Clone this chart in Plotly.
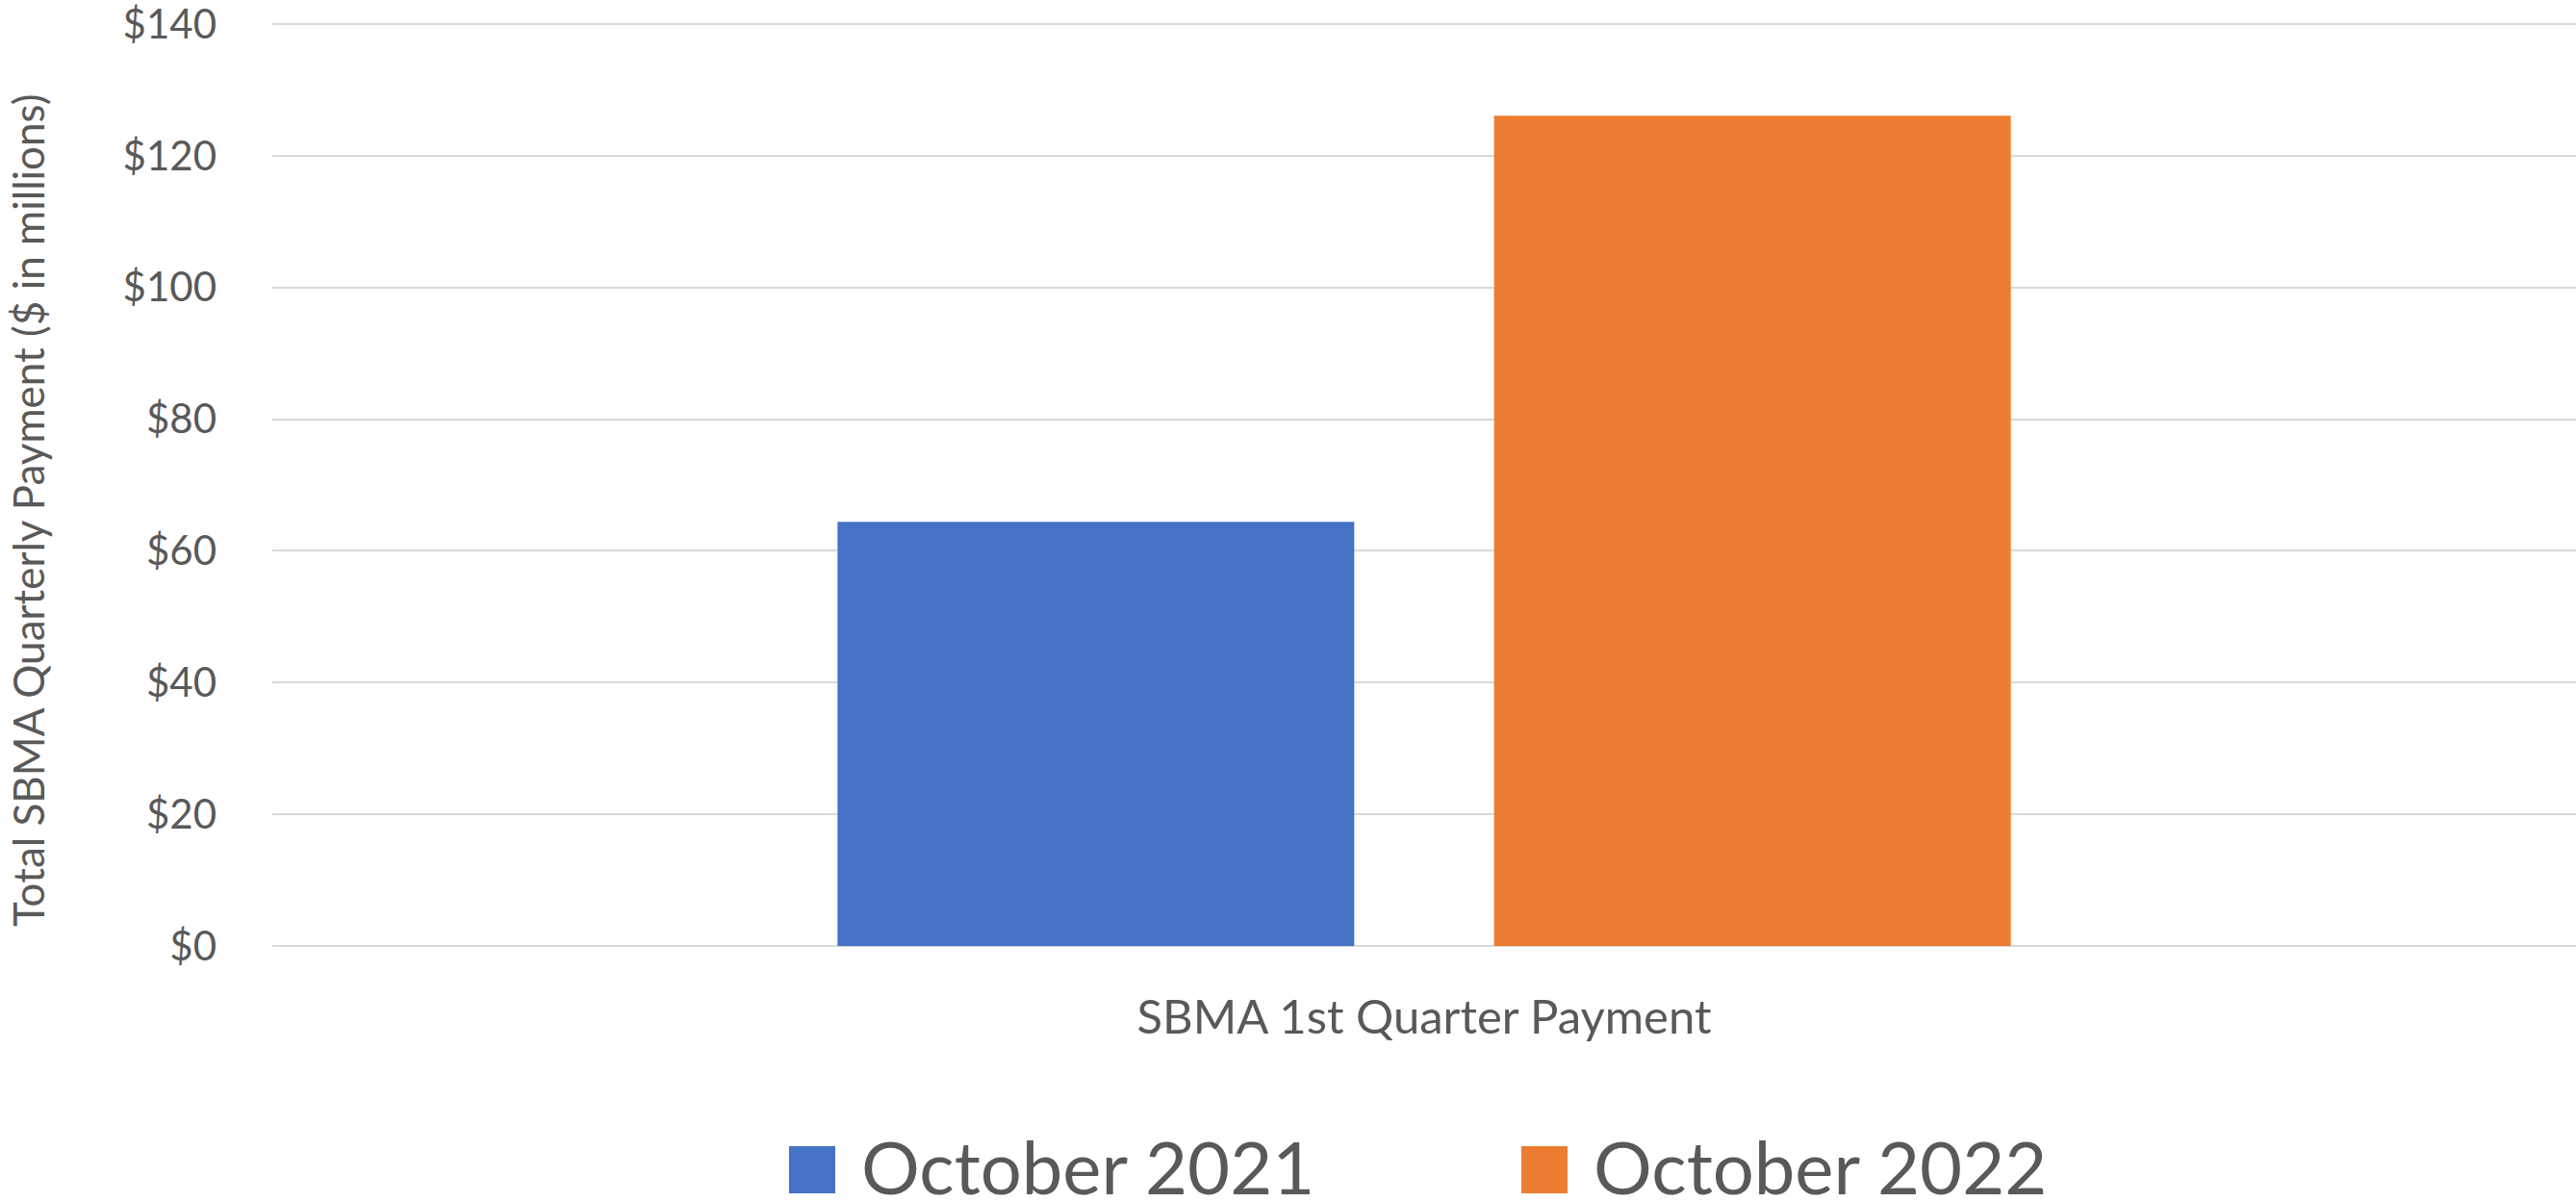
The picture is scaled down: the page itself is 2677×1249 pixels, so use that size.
import plotly.graph_objects as go

categories = ["SBMA 1st Quarter Payment"]
series_names = ["October 2021", "October 2022"]
series_values = [[64.4], [126.1]]
series_colors = ["#4472C4", "#ED7D31"]
y_tickvals = [0, 20, 40, 60, 80, 100, 120, 140]
y_ticktext = ["$0", "$20", "$40", "$60", "$80", "$100", "$120", "$140"]
y_title = "Total SBMA Quarterly Payment ($ in millions)"

W, H = 2677, 1249
ML, MR, MT, MB = 283, 0, 24, 266
FONT = "Lato"
GRAY = "#595959"

fig = go.Figure()
for name, vals, col in zip(series_names, series_values, series_colors):
    fig.add_trace(go.Bar(x=categories, y=vals, name=name, marker_color=col,
                         marker_line_width=0, showlegend=False))

fig.update_layout(
    width=W, height=H,
    margin=dict(l=ML, r=MR, t=MT, b=MB, autoexpand=False),
    paper_bgcolor="white", plot_bgcolor="white",
    barmode="group", bargap=0.43, bargroupgap=0.213,
    font=dict(family=FONT, color=GRAY),
    xaxis=dict(showgrid=False, showline=False, zeroline=False, ticks="",
               tickfont=dict(size=49, color=GRAY), ticklabelstandoff=41,
               automargin=False),
    yaxis=dict(range=[0, 140.15], tickvals=y_tickvals, ticktext=y_ticktext,
               showgrid=True, gridcolor="#D9D9D9", gridwidth=2,
               zeroline=True, zerolinecolor="#D9D9D9", zerolinewidth=2,
               showline=False, ticks="", ticklabeloverflow="allow",
               tickfont=dict(size=42, color=GRAY), ticklabelstandoff=57,
               automargin=False),
)

plot_w = W - ML - MR
plot_h = H - MT - MB
def px_x(p):
    return (p - ML) / plot_w
def px_y(p):
    return (H - MB - p) / plot_h

# y-axis title (placed as in the original, slightly below plot centre)
fig.add_annotation(xref="paper", yref="paper", x=px_x(29), y=px_y(531),
                   xanchor="center", yanchor="middle", showarrow=False,
                   textangle=-90, text=y_title,
                   font=dict(size=44, color=GRAY, family=FONT))

# Manual legend (large squares like the original)
legend_items = [(820, 893), (1581, 1654)]
for (sq_x, tx_x), name, col in zip(legend_items, series_names, series_colors):
    fig.add_shape(type="rect", xref="paper", yref="paper",
                  x0=px_x(sq_x), x1=px_x(sq_x + 48),
                  y0=px_y(1240), y1=px_y(1191),
                  fillcolor=col, line_width=0)
    fig.add_annotation(xref="paper", yref="paper", x=px_x(tx_x), y=px_y(1211),
                       xanchor="left", yanchor="middle", showarrow=False,
                       text=name, font=dict(size=76, color=GRAY, family=FONT))

fig.write_html("out.html", config={"displayModeBar": False},
               post_script="document.body.style.margin='0';")
